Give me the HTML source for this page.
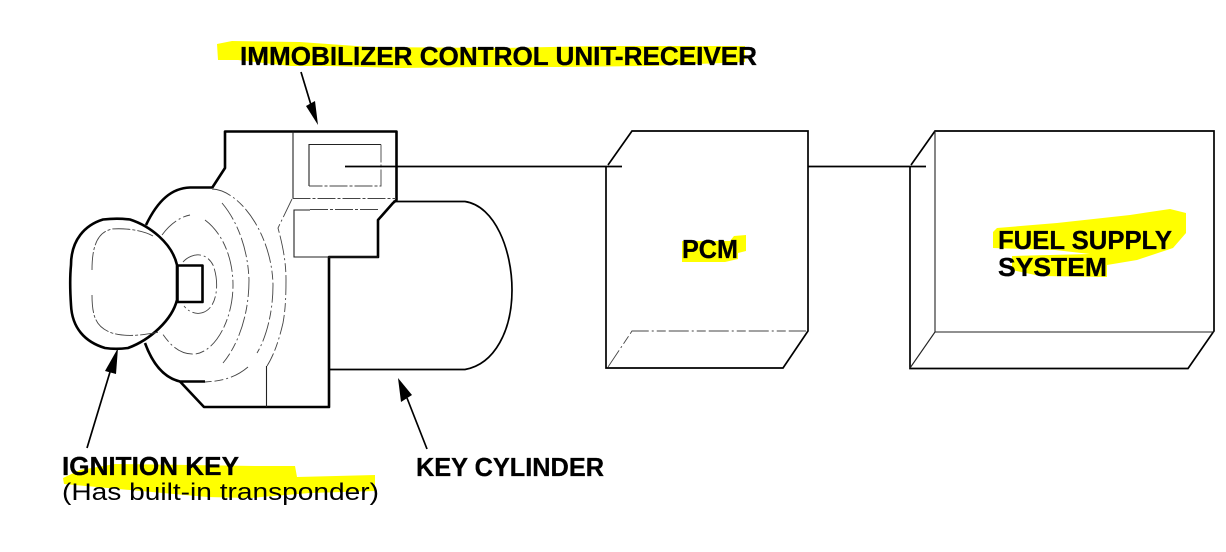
<!DOCTYPE html>
<html>
<head>
<meta charset="utf-8">
<style>
html,body{margin:0;padding:0;background:#fff;width:1226px;height:552px;overflow:hidden}
svg{display:block}
text{font-family:"Liberation Sans",Arial,sans-serif;fill:#000}
.b{font-weight:bold;font-size:26px;stroke:#000;stroke-width:.3px}
.k{fill:none;stroke:#000;stroke-width:2.6;stroke-linejoin:round;stroke-linecap:butt}
.m{fill:none;stroke:#000;stroke-width:1.7}
.t{fill:none;stroke:#222;stroke-width:1.1}
.d{fill:none;stroke:#444;stroke-width:.9;stroke-dasharray:18 2 3 2}
.e{fill:none;stroke:#444;stroke-width:.9;stroke-dasharray:20 3 2 3 9 3}
</style>
</head>
<body>
<svg width="1226" height="552" viewBox="0 0 1226 552" xmlns="http://www.w3.org/2000/svg">
<!-- highlights -->
<g fill="#ffff00">
<polygon points="217,44 232,41 300,42 370,47 500,48 600,46 700,46 745,46 745,62 650,66 560,67 480,67 400,68 330,66 290,66 238,60 218,60"/>
<polygon points="63,478 80,470 115,464 190,465 257,466 295,466 297,477 375,475 375,491 310,493 250,498 207,497 130,490 64,484"/>
<polygon points="682,241 730,241 734,236 746,235 746,251 738,253 738,259 725,262 682,262"/>
<polygon points="993,232 997,228 1057,223 1130,215 1170,209 1186,213 1186,233 1173,248 1137,260 1107,265 1107,277 1040,276 1012,270 1012,256 1090,254 1055,250 993,248"/>
</g>

<!-- cylinder -->
<path class="m" d="M393,201.5 H465 C495,206 512,250 512,290 C512,330 495,364 465,369.5 H329"/>

<!-- body -->
<path class="k" d="M212,188 L225,168 V131.5 H396.5 V200 L393,203 L378,220 V257 H329 V407 H204 L180,381.5"/>
<path class="k" d="M146,225 C158,200 172,188 190,187.5 H212"/>
<path class="k" d="M145,343 C153,365 165,378 180,381.5 H205"/>
<path class="t" d="M378,257 H294 V210 H310"/>
<path class="d" d="M310,209.5 H378"/>
<path class="t" d="M293,131.5 V198"/>
<path class="d" d="M292.5,198.5 H396"/>
<path class="t" d="M309,186 V144.5 H381"/>
<path class="d" d="M381,144.5 V186 H309"/>
<!-- body dashed right side -->
<path class="e" d="M292,199 L278,228 C284,250 286,265 286,280 C286,300 285,312 283,323 C279,340 274,355 267,366"/>
<path class="t" d="M266.5,366 V407"/>

<!-- ripples -->
<path class="e" d="M183,262 C190,254 205,250 213,265 C218,278 218,295 212,305 C205,316 192,316 184,306"/>
<path class="e" d="M162,235 C170,224 180,217 190,215 M205,220 C225,235 233,262 233,285 C233,320 215,352 195,354 C180,355 170,345 162,333"/>
<path class="e" d="M222,203 C238,222 248,250 249,280 C249,315 238,345 223,363"/>
<path class="e" d="M212,189 C240,190 272,235 273,285 C273,315 265,340 257,353 M248,367 C235,378 222,381 205,382"/>

<!-- key -->
<path class="k" fill="#fff" style="fill:#fff" d="M103,219.5 C112,218.5 122,218.5 130,219.5 C150,226 172,243 177,265 V300 C172,320 150,340 128,348 C120,349 112,349 105,348 C85,342 72,328 71,305 C70,290 70,275 71,265 C71,240 85,225 103,219.5 Z"/>
<path class="d" d="M92,270 C92,245 98,232 112,229 C125,228 142,230 153,236 M92,295 C92,320 98,328 112,333 C128,338 148,334 160,332"/>
<rect x="177.5" y="265.5" width="25" height="36.5" class="k"/>

<!-- arrows -->
<path class="m" stroke-width="1.4" d="M301,72 L311,105"/>
<polygon points="318,125 306,106 315,101"/>
<path class="m" d="M427,449 L407,398"/>
<polygon points="398,378 412,395 401,402"/>
<path class="m" d="M87,448 L110,372"/>
<polygon points="118,348 116,374 105,371"/>

<!-- connections -->
<path class="m" d="M345,166.5 H622"/>
<path class="m" d="M808,166.5 H926"/>

<!-- PCM -->
<path class="m" stroke-width="2" d="M606,167 V368 H783 L808,331 V131 H632 L608,165"/>
<path class="e" d="M608,367 L632,331 H806"/>

<!-- Fuel -->
<path class="m" stroke-width="2" d="M910,167 V368.5 H1188 L1214,331 V131 H935 L911,165"/>
<path class="t" d="M935,131 V332 H1214"/>
<path class="t" d="M910,368 L935,332"/>

<!-- text -->
<text class="b" x="240" y="65" textLength="517" lengthAdjust="spacingAndGlyphs">IMMOBILIZER CONTROL UNIT-RECEIVER</text>
<text class="b" x="682" y="258" textLength="56" lengthAdjust="spacingAndGlyphs">PCM</text>
<text class="b" x="998" y="249" textLength="174" lengthAdjust="spacingAndGlyphs">FUEL SUPPLY</text>
<text class="b" x="998" y="276" textLength="109" lengthAdjust="spacingAndGlyphs">SYSTEM</text>
<text class="b" x="62" y="475" textLength="177" lengthAdjust="spacingAndGlyphs">IGNITION KEY</text>
<text x="62" y="500" font-size="24" textLength="317" lengthAdjust="spacingAndGlyphs">(Has built-in transponder)</text>
<text class="b" x="416" y="476" textLength="188" lengthAdjust="spacingAndGlyphs">KEY CYLINDER</text>
</svg>
</body>
</html>
